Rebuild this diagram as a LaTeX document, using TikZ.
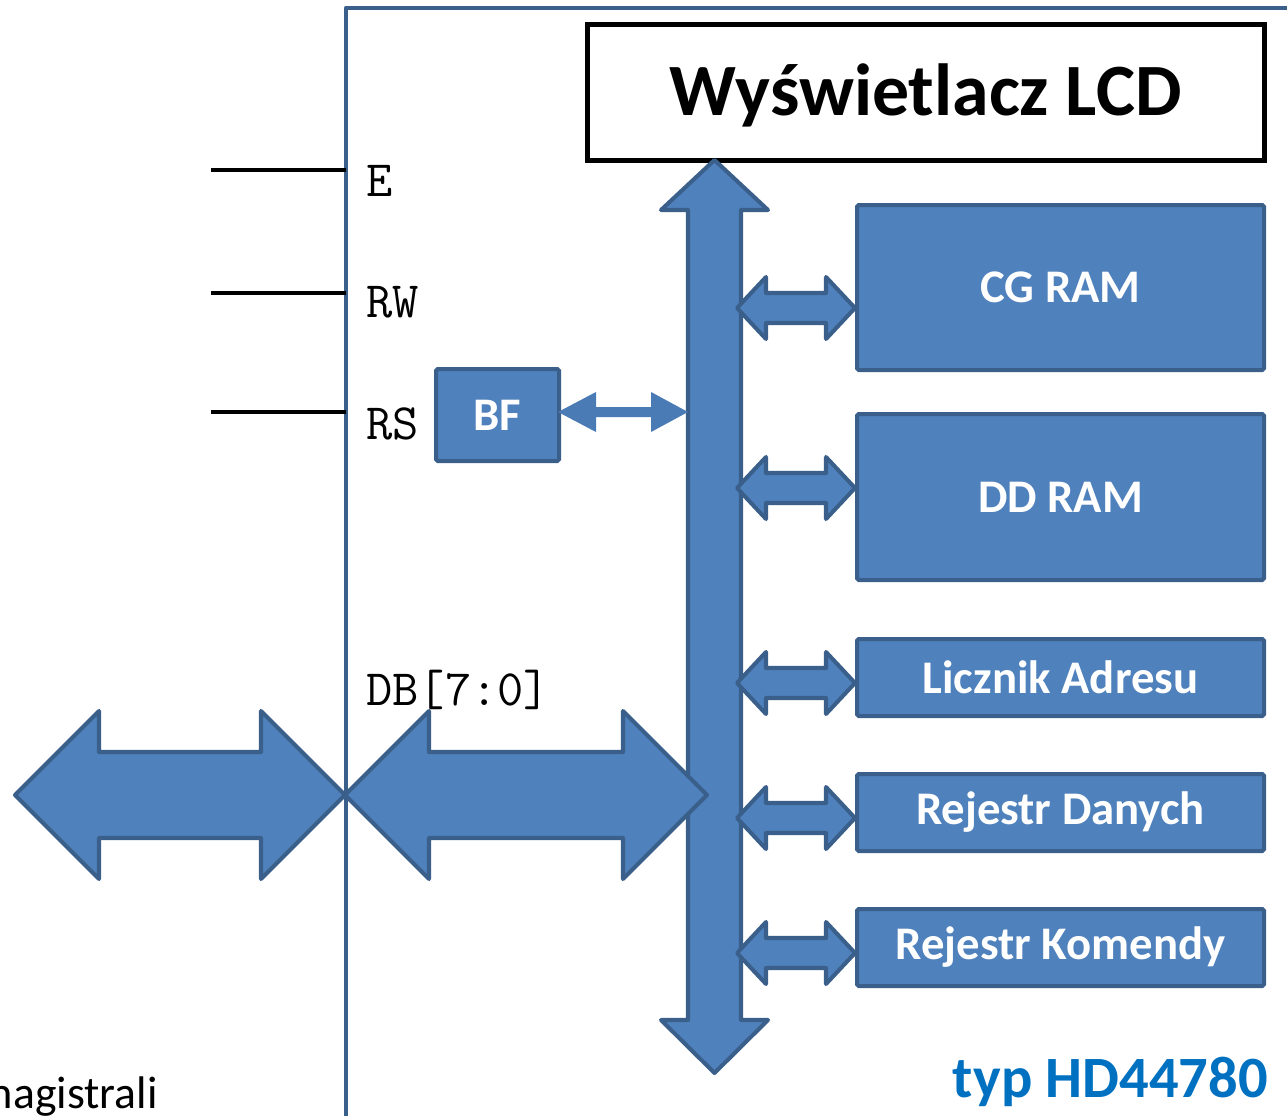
\documentclass[tikz,border=0pt]{standalone}
\usepackage{fontspec}
\setmainfont{Carlito}
\definecolor{bfill}{HTML}{4F81BD}
\definecolor{bdraw}{HTML}{3A5F8B}
\definecolor{ttl}{HTML}{0070C0}
\newcommand\hdarrow[6]{% x1,x2,yc,headlen,headhalf,shafthalf
  \draw[blockarrow] (#1,#3) -- (#1+#4,#3-#5) -- (#1+#4,#3-#6) -- (#2-#4,#3-#6) -- (#2-#4,#3-#5) -- (#2,#3) -- (#2-#4,#3+#5) -- (#2-#4,#3+#6) -- (#1+#4,#3+#6) -- (#1+#4,#3+#5) -- cycle;}
\tikzset{
  blockarrow/.style={fill=bfill, draw=bdraw, line width=2.3pt, line join=round},
  bluebox/.style={fill=bfill, draw=bdraw, line width=2.3pt, rounded corners=1pt, inner sep=0pt, text=white, font=\bfseries\fontsize{26.6pt}{30pt}\selectfont},
  sig/.style={black, line width=2pt},
  siglabel/.style={anchor=base west, inner sep=0pt, font=\ttfamily\fontsize{29pt}{32pt}\selectfont}
}
\begin{document}
\begin{tikzpicture}[x=0.02cm,y=-0.02cm]
\useasboundingbox (0,0) rectangle (1287,1115);
\clip (0,0) rectangle (1287,1115);
% outer frame
\coordinate (fbl) at (346,1130);
\coordinate (ftl) at (346,8);
\coordinate (ftr) at (1300,8);
\draw[bdraw, line width=2.6pt, line join=round] (fbl) -- (ftl) -- (ftr);
% LCD box
\node[draw=black, line width=2.6pt, minimum width=677*0.02cm, minimum height=136*0.02cm, anchor=north west, inner sep=0pt] (lcd) at (585,22) {};
\node[anchor=center, inner sep=0pt, font=\bfseries\fontsize{42pt}{46pt}\selectfont] (lcdt) at ([yshift=-0.07cm]lcd.center) {Wyświetlacz LCD};
% signal lines
\coordinate (Ein) at (211,170); \coordinate (Eout) at (346,170);
\coordinate (RWin) at (211,293); \coordinate (RWout) at (346,293);
\coordinate (RSin) at (211,412); \coordinate (RSout) at (346,412);
\draw[sig] (Ein) -- (Eout);
\draw[sig] (RWin) -- (RWout);
\draw[sig] (RSin) -- (RSout);
\node[siglabel] (lE) at (366,196) {E};
\node[siglabel] (lRW) at (366,317) {RW};
\node[siglabel] (lRS) at (366,439) {RS};
\node[siglabel] (lDB) at (366,705) {DB[7:0]};
% vertical bus
\draw[blockarrow] (714.5,160) -- (768,210) -- (741,210) -- (741,1020) -- (768,1020) -- (714.5,1073) -- (661,1020) -- (688,1020) -- (688,210) -- (661,210) -- cycle;
% boxes
\node[bluebox, minimum width=407*0.02cm, minimum height=165*0.02cm, anchor=north west] (cg) at (855,203) {CG RAM};
\node[bluebox, minimum width=407*0.02cm, minimum height=166*0.02cm, anchor=north west] (dd) at (855,412) {DD RAM};
\node[bluebox, minimum width=407*0.02cm, minimum height=77*0.02cm, anchor=north west] (la) at (855,637) {Licznik Adresu};
\node[bluebox, minimum width=407*0.02cm, minimum height=77*0.02cm, anchor=north west] (rd) at (855,772) {Rejestr Danych};
\node[bluebox, minimum width=407*0.02cm, minimum height=77*0.02cm, anchor=north west] (rk) at (855,907) {Rejestr Komendy};
\node[bluebox, minimum width=123*0.02cm, minimum height=92*0.02cm, anchor=north west] (bf) at (434,367) {BF};
% small double arrows
\hdarrow{737}{855}{308}{29}{31}{15}
\hdarrow{737}{855}{488}{29}{31}{15}
\hdarrow{737}{855}{683}{29}{31}{15}
\hdarrow{737}{855}{818}{29}{31}{15}
\hdarrow{737}{855}{953}{29}{31}{15}
% BF arrow
\fill[bfill!95!black] (558,412) -- (596,392) -- (596,407) -- (651,407) -- (651,392) -- (688,412) -- (651,432) -- (651,417) -- (596,417) -- (596,432) -- cycle;
% big data arrows
\hdarrow{15}{345}{795}{84}{84}{43}
\hdarrow{345}{707}{795}{84}{84}{43}
% texts
\node[anchor=base east, inner sep=0pt, text=ttl, font=\bfseries\fontsize{33.3pt}{38pt}\selectfont] (typ) at (1268,1097) {typ HD44780};
\node[anchor=base east, inner sep=0pt, font=\fontsize{26pt}{30pt}\selectfont] (mag) at (158,1108) {magistrali};
\end{tikzpicture}
\end{document}
